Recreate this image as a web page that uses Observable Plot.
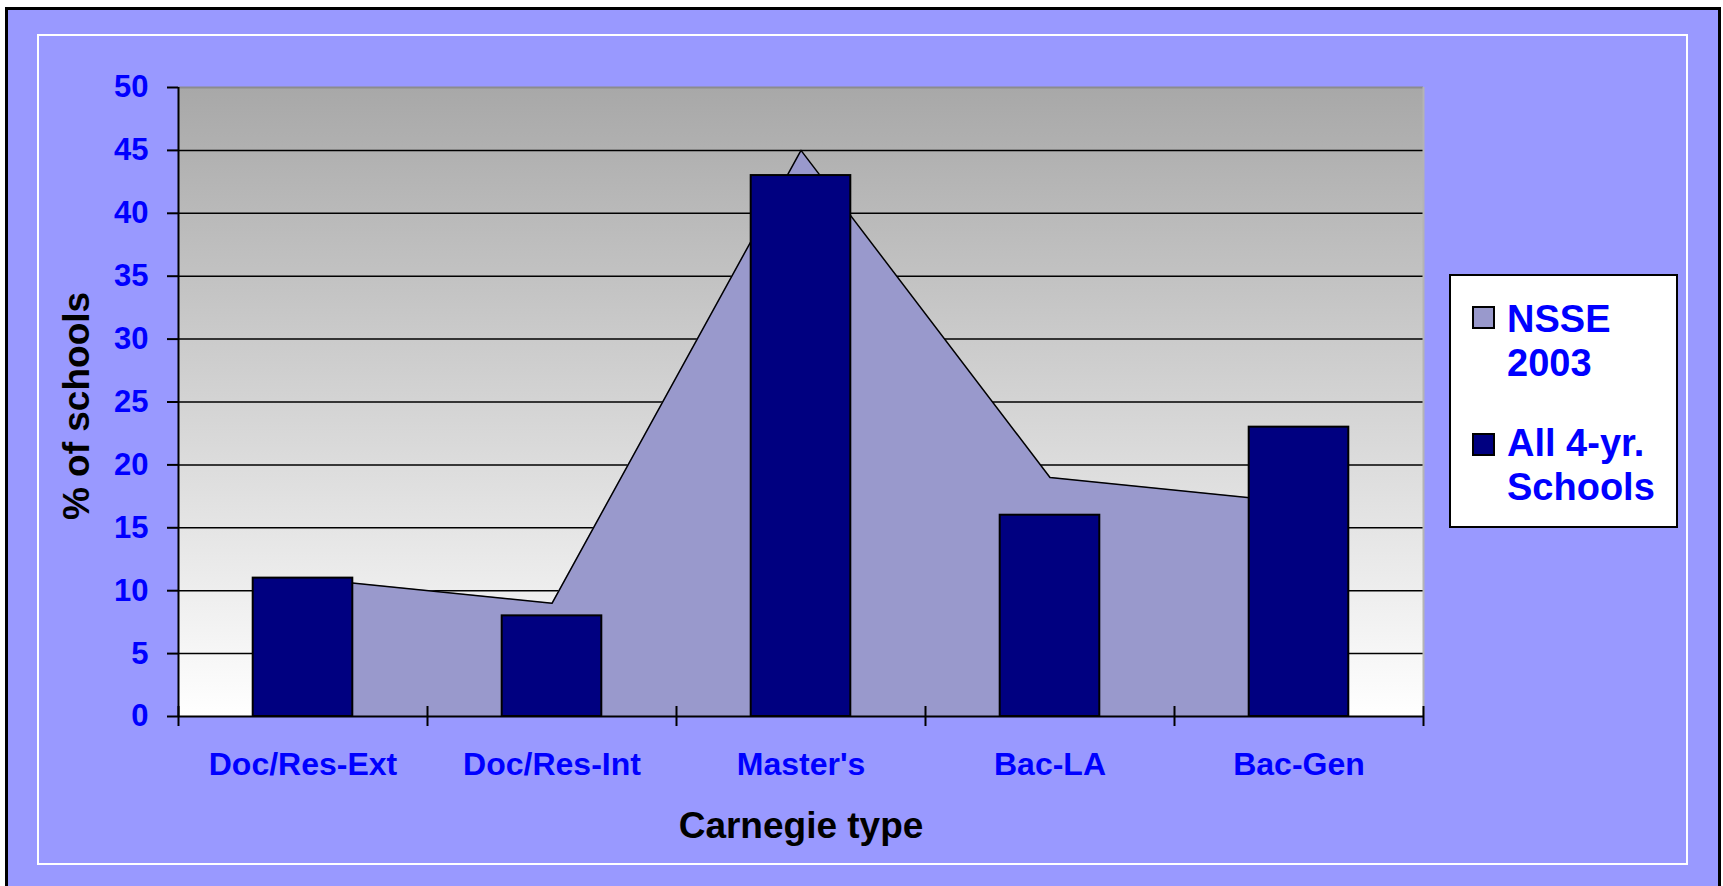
<!DOCTYPE html>
<html>
<head>
<meta charset="utf-8">
<script src="https://cdn.jsdelivr.net/npm/d3@7"></script>
<script src="https://cdn.jsdelivr.net/npm/@observablehq/plot@0.6"></script>
<style>
  html, body { margin: 0; padding: 0; background: #ffffff; width: 1723px; height: 886px; overflow: hidden; }
  #frame { position: absolute; left: 5px; top: 7px; width: 1716px; height: 884px; box-sizing: border-box; border: 3px solid #000; background: #9999FF; }
  #inner { position: absolute; left: 37px; top: 34px; width: 1651px; height: 831px; box-sizing: border-box; border: 2px solid #ffffff; }
  #chart { position: absolute; left: 0; top: 0; }
  #legend { position: absolute; left: 1449px; top: 274px; width: 229px; height: 254px; box-sizing: border-box; border: 2px solid #000; background: #ffffff;
            font-family: 'Liberation Sans', Arial, sans-serif; font-weight: bold; font-size: 38px; line-height: 44.5px; color: #0000FF; }
  .sw { position: absolute; left: 21px; width: 23px; height: 23px; box-sizing: border-box; border: 2px solid #000; }
  .lt { position: absolute; left: 56px; width: 165px; }
</style>
</head>
<body>
<div id="frame"></div>
<div id="inner"></div>
<div id="chart"></div>
<div id="legend"></div>
<script>
// ---- data ----
const categories = ["Doc/Res-Ext", "Doc/Res-Int", "Master's", "Bac-LA", "Bac-Gen"];
const nsse2003 = [11, 9, 45, 19, 17];
const all4yr = [11, 8, 43, 16, 23];
const yTicks = [0, 5, 10, 15, 20, 25, 30, 35, 40, 45, 50];
const seriesNames = ["NSSE 2003", "All 4-yr. Schools"];
const seriesColors = ["#9999CC", "#000080"];
const xTitle = "Carnegie type";
const yTitle = "% of schools";

// ---- chart ----
const idx = d3.range(categories.length);
const center = i => i + 0.5;
const barHalf = 0.2;
const yMax = yTicks[yTicks.length - 1];

const chart = Plot.plot({
  width: 1723,
  height: 886,
  marginLeft: 178,
  marginRight: 300,
  marginTop: 87,
  marginBottom: 170,
  style: { background: "transparent", fontFamily: "'Liberation Sans', Arial, sans-serif", fontWeight: "bold", overflow: "visible" },
  x: { type: "linear", domain: [0, categories.length] },
  y: { domain: [0, yMax] },
  marks: [
    Plot.frame({ fill: "#cccccc", stroke: "none" }),
    Plot.ruleY(yTicks.filter(v => v > 0 && v < yMax), { stroke: "#000", strokeWidth: 1.5 }),
    Plot.ruleY([yMax], { stroke: "#8c8c8c", strokeWidth: 2 }),
    Plot.ruleX([categories.length], { stroke: "#b4b4b4", strokeWidth: 2 }),
    Plot.areaY(idx, { x: center, y: i => nsse2003[i], fill: seriesColors[0] }),
    Plot.lineY(idx, { x: center, y: i => nsse2003[i], stroke: "#000", strokeWidth: 1.5 }),
    Plot.rect(idx, { x1: i => center(i) - barHalf, x2: i => center(i) + barHalf, y1: 0, y2: i => all4yr[i], fill: seriesColors[1], stroke: "#000", strokeWidth: 2 }),
    Plot.ruleX([0], { stroke: "#000", strokeWidth: 2 }),
    Plot.ruleY([0], { stroke: "#000", strokeWidth: 2 }),
    Plot.axisY({ ticks: yTicks, tickSize: 11, tickPadding: 19, tickFormat: d => String(d), fill: "#0000FF", stroke: "#000", strokeWidth: 2, fontSize: 31, label: null }),
    Plot.axisX({ ticks: d3.range(categories.length + 1), tickSize: 20, dy: -10, tickFormat: () => "", stroke: "#000", strokeWidth: 2, label: null }),
    Plot.axisX({ ticks: idx.map(center), tickSize: 0, tickPadding: 36, tickFormat: v => categories[Math.round(v - 0.5)], fill: "#0000FF", fontSize: 32, label: null }),
    Plot.text([yTitle], { text: d => d, frameAnchor: "left", dx: -90, dy: 4, rotate: -90, textAnchor: "middle", lineAnchor: "bottom", fontSize: 37, fill: "#000" }),
    Plot.text([xTitle], { text: d => d, frameAnchor: "bottom", dy: 121, textAnchor: "middle", lineAnchor: "bottom", fontSize: 37, fill: "#000" })
  ]
});

// gradient background for plot area
const defs = d3.select(chart).insert("defs", ":first-child");
const grad = defs.append("linearGradient").attr("id", "plotGrad").attr("x1", 0).attr("y1", 0).attr("x2", 0).attr("y2", 1);
grad.append("stop").attr("offset", "0%").attr("stop-color", "#A8A8A8");
grad.append("stop").attr("offset", "100%").attr("stop-color", "#FFFFFF");
const fr = chart.querySelector('[aria-label="frame"]');
if (fr) {
  const r = fr.tagName.toLowerCase() === "rect" ? fr : fr.querySelector("rect");
  if (r) r.setAttribute("fill", "url(#plotGrad)");
}
document.getElementById("chart").appendChild(chart);

// ---- legend ----
const legend = document.getElementById("legend");
const legendTops = [20.8, 144.8];
const swatchTops = [30, 156.7];
seriesNames.forEach((name, i) => {
  const sw = document.createElement("div");
  sw.className = "sw";
  sw.style.top = swatchTops[i] + "px";
  sw.style.background = seriesColors[i];
  legend.appendChild(sw);
  const t = document.createElement("div");
  t.className = "lt";
  t.style.top = legendTops[i] + "px";
  t.textContent = name;
  legend.appendChild(t);
});
</script>
</body>
</html>
